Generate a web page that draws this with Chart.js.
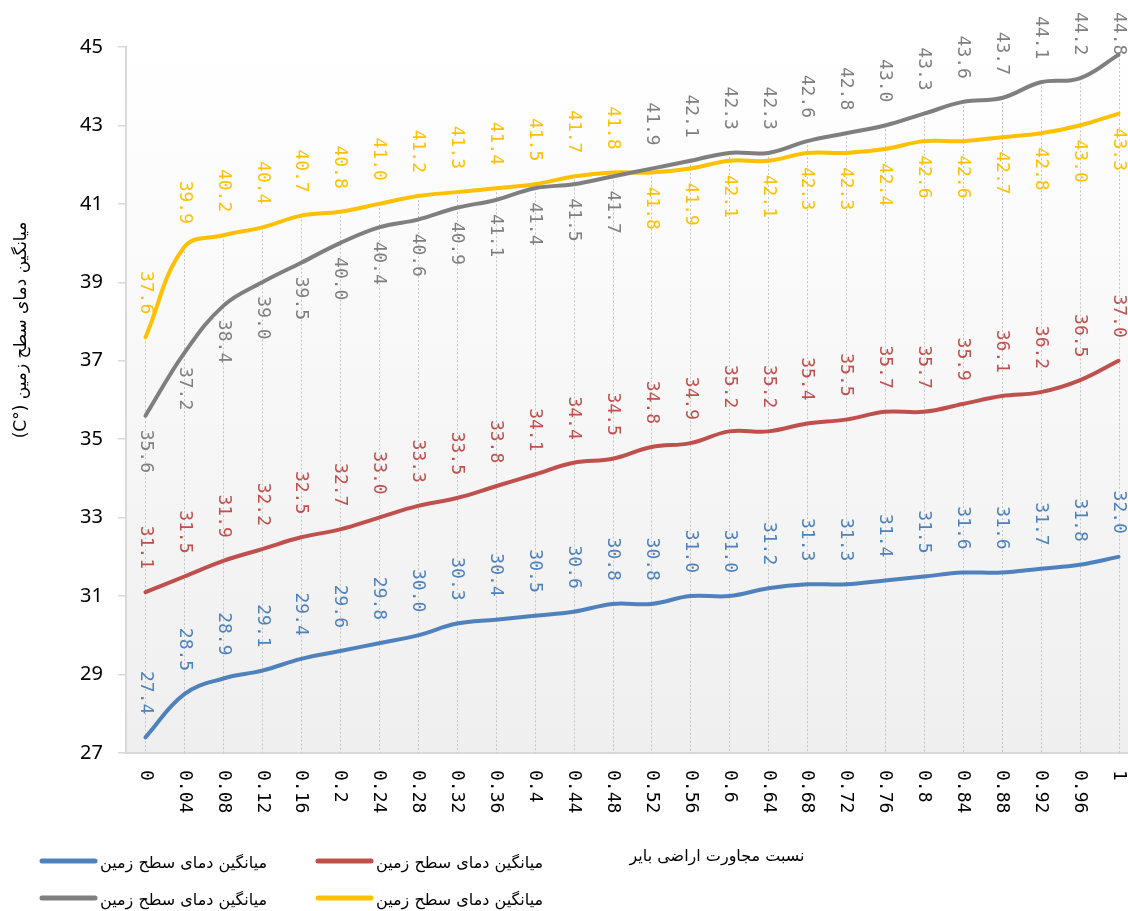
<!DOCTYPE html>
<html>
<head>
<meta charset="utf-8">
<script src="https://cdn.jsdelivr.net/npm/chart.js@4.4.1/dist/chart.umd.min.js"></script>
<style>
  html, body { margin: 0; padding: 0; background: #ffffff; overflow: hidden; }
  #wrap { position: relative; width: 1138px; height: 911px; }
</style>
</head>
<body>
<div id="wrap"><canvas id="chart"></canvas></div>
<script>
// Proportion of neighbouring barren land (x) against mean land surface temperature (y)
const categories = ['0', '0.04', '0.08', '0.12', '0.16', '0.2', '0.24', '0.28', '0.32', '0.36',
  '0.4', '0.44', '0.48', '0.52', '0.56', '0.6', '0.64', '0.68', '0.72', '0.76',
  '0.8', '0.84', '0.88', '0.92', '0.96', '1'];

const seriesBlue = [27.4, 28.5, 28.9, 29.1, 29.4, 29.6, 29.8, 30.0, 30.3, 30.4,
  30.5, 30.6, 30.8, 30.8, 31.0, 31.0, 31.2, 31.3, 31.3, 31.4,
  31.5, 31.6, 31.6, 31.7, 31.8, 32.0];
const seriesRed = [31.1, 31.5, 31.9, 32.2, 32.5, 32.7, 33.0, 33.3, 33.5, 33.8,
  34.1, 34.4, 34.5, 34.8, 34.9, 35.2, 35.2, 35.4, 35.5, 35.7,
  35.7, 35.9, 36.1, 36.2, 36.5, 37.0];
const seriesGray = [35.6, 37.2, 38.4, 39.0, 39.5, 40.0, 40.4, 40.6, 40.9, 41.1,
  41.4, 41.5, 41.7, 41.9, 42.1, 42.3, 42.3, 42.6, 42.8, 43.0,
  43.3, 43.6, 43.7, 44.1, 44.2, 44.8];
const seriesYellow = [37.6, 39.9, 40.2, 40.4, 40.7, 40.8, 41.0, 41.2, 41.3, 41.4,
  41.5, 41.7, 41.8, 41.8, 41.9, 42.1, 42.1, 42.3, 42.3, 42.4,
  42.6, 42.6, 42.7, 42.8, 43.0, 43.3];

const seriesName = 'میانگین دمای سطح زمین';
const xTitle = 'نسبت مجاورت اراضی بایر';
// unit first in an LTR run so the bracketed unit lands at the left end
const yTitle = '(C°) میانگین دمای سطح زمین';
const yMin = 27, yMax = 45, yStep = 2;

const ARABIC_FONT = '"DejaVu Sans", "Noto Sans", sans-serif';
const NUM_FONT = '"DejaVu Sans Mono", monospace';

// Plot area fill: white at the top fading to light grey at the bottom
const plotBackground = {
  id: 'plotBackground',
  beforeDraw(chart) {
    const { ctx, chartArea: a } = chart;
    const g = ctx.createLinearGradient(0, a.top, 0, a.bottom);
    g.addColorStop(0, '#ffffff');
    g.addColorStop(1, '#efefef');
    ctx.save();
    ctx.fillStyle = g;
    ctx.fillRect(a.left, a.top, a.right - a.left, a.bottom - a.top);
    ctx.restore();
  }
};

// Dotted drop lines from the highest series down to the category axis
const dropLines = {
  id: 'dropLines',
  beforeDatasetsDraw(chart) {
    const { ctx, chartArea: a, scales: { x, y } } = chart;
    ctx.save();
    ctx.strokeStyle = '#c4c4c4';
    ctx.lineWidth = 1;
    ctx.setLineDash([2, 2]);
    chart.data.labels.forEach((_, i) => {
      const top = Math.max(...chart.data.datasets.map(d => d.data[i]));
      const px = Math.round(x.getPixelForValue(i)) + 0.5;
      ctx.beginPath();
      ctx.moveTo(px, y.getPixelForValue(top));
      ctx.lineTo(px, a.bottom);
      ctx.stroke();
    });
    ctx.restore();
  }
};

// Vertical value labels; of a paired series, the lower one is labelled underneath
const valueLabels = {
  id: 'valueLabels',
  afterDatasetsDraw(chart) {
    const { ctx } = chart;
    const sets = chart.data.datasets;
    ctx.save();
    ctx.font = '18px ' + NUM_FONT;
    ctx.textBaseline = 'middle';
    sets.forEach((ds, di) => {
      const meta = chart.getDatasetMeta(di);
      ctx.fillStyle = ds.borderColor;
      meta.data.forEach((pt, i) => {
        const v = ds.data[i];
        const text = v.toFixed(1);
        const len = ctx.measureText(text).width;
        const below = ds.pairWith != null && v < sets[ds.pairWith].data[i];
        let start = below ? pt.y + 14 : pt.y - 23 - len;
        if (start < 12) start = 12;
        ctx.save();
        ctx.translate(pt.x, start);
        ctx.rotate(Math.PI / 2);
        ctx.textAlign = 'left';
        ctx.fillText(text, 0, 0);
        ctx.restore();
      });
    });
    ctx.restore();
  }
};

// Category tick labels (rotated clockwise), axis titles and the legend
const annotations = {
  id: 'annotations',
  afterDraw(chart) {
    const { ctx, chartArea: a, scales: { x } } = chart;
    ctx.save();
    ctx.fillStyle = '#000000';
    ctx.font = '18px ' + NUM_FONT;
    ctx.textBaseline = 'middle';
    ctx.textAlign = 'left';
    chart.data.labels.forEach((lab, i) => {
      ctx.save();
      ctx.translate(x.getPixelForTick(i), a.bottom + 17);
      ctx.rotate(Math.PI / 2);
      ctx.fillText(lab, 0, 0);
      ctx.restore();
    });

    ctx.textAlign = 'center';
    ctx.direction = 'rtl';
    ctx.font = '16px ' + ARABIC_FONT;
    ctx.fillText(xTitle, 717, 857);

    ctx.direction = 'ltr';
    ctx.font = '17px ' + ARABIC_FONT;
    ctx.save();
    ctx.translate(22, 330);
    ctx.rotate(-Math.PI / 2);
    ctx.fillText(yTitle, 0, 0);
    ctx.restore();

    // Legend: two columns, two rows
    const slots = [[42, 861], [318, 861], [42, 898], [318, 898]];
    ctx.textAlign = 'left';
    ctx.font = '16px ' + ARABIC_FONT;
    chart.data.datasets.forEach((ds, k) => {
      const [lx, ly] = slots[k];
      ctx.strokeStyle = ds.borderColor;
      ctx.lineWidth = 5;
      ctx.lineCap = 'round';
      ctx.beginPath();
      ctx.moveTo(lx, ly);
      ctx.lineTo(lx + 53, ly);
      ctx.stroke();
      ctx.fillText(ds.label, lx + 58, ly + 3);
    });
    ctx.restore();
  }
};

const lineStyle = {
  borderWidth: 4,
  pointRadius: 0,
  pointHoverRadius: 0,
  tension: 0.4,
  fill: false,
  borderCapStyle: 'round',
  borderJoinStyle: 'round'
};

new Chart(document.getElementById('chart'), {
  type: 'line',
  data: {
    labels: categories,
    datasets: [
      { label: seriesName, data: seriesBlue, borderColor: '#4f81bd', ...lineStyle },
      { label: seriesName, data: seriesRed, borderColor: '#c0504d', ...lineStyle },
      { label: seriesName, data: seriesGray, borderColor: '#7f7f7f', pairWith: 3, ...lineStyle },
      { label: seriesName, data: seriesYellow, borderColor: '#ffc000', pairWith: 2, ...lineStyle }
    ]
  },
  options: {
    responsive: true,
    maintainAspectRatio: false,
    animation: false,
    layout: { padding: { left: 0, right: 0, top: 47, bottom: 0 } },
    plugins: {
      legend: { display: false },
      tooltip: { enabled: false }
    },
    scales: {
      x: {
        type: 'category',
        offset: true,
        grid: { display: false, drawTicks: false },
        border: { display: true, color: '#d9d9d9', width: 2 },
        ticks: { display: false },
        afterFit(scale) { scale.height = 158; }
      },
      y: {
        min: yMin,
        max: yMax,
        ticks: {
          stepSize: yStep,
          padding: 15,
          color: '#000000',
          font: { family: '"Noto Sans", "Open Sans", sans-serif', size: 20 }
        },
        grid: { drawOnChartArea: false, drawTicks: true, tickLength: 8, color: '#d9d9d9', lineWidth: 1.5 },
        border: { display: true, color: '#d9d9d9', width: 2 },
        afterFit(scale) { scale.width = 126; }
      }
    }
  },
  plugins: [plotBackground, dropLines, valueLabels, annotations]
});
</script>
</body>
</html>
